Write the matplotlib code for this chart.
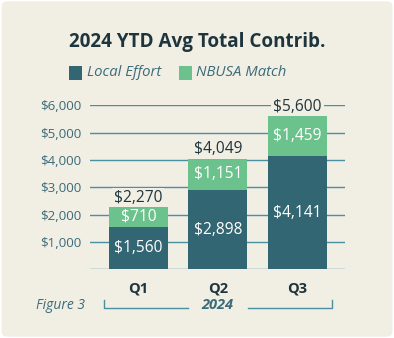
import matplotlib.pyplot as plt
from matplotlib.patches import FancyBboxPatch, Rectangle
from matplotlib.lines import Line2D

quarters = ['Q1', 'Q2', 'Q3']
local_effort = [1560, 2898, 4141]
nbusa_match = [710, 1151, 1459]
totals = [2270, 4049, 5600]
y_ticks = [1000, 2000, 3000, 4000, 5000, 6000]

BG = '#f1eee4'
DARK = '#336673'
GREEN = '#6cc28c'
GRID = '#4b8fa2'
TICK = '#3b6c7a'
INK = '#1f353d'

plt.rcParams['font.family'] = ['Open Sans', 'DejaVu Sans']

W, H = 394, 338
fig = plt.figure(figsize=(W / 100, H / 100), dpi=100)
fig.patch.set_facecolor('white')


def fx(px):
    return px / W


def fy(py):
    return 1 - py / H


# card background
fig.patches.append(FancyBboxPatch((0.004, 0.004), 0.992, 0.992,
                                  boxstyle='round,pad=0,rounding_size=0.015',
                                  transform=fig.transFigure, facecolor=BG,
                                  edgecolor='none', zorder=-5))

ax = fig.add_axes([fx(90), fy(269.3), fx(344.7) - fx(90), fy(105.3) - fy(269.3)])
ax.set_zorder(2)
ax.set_facecolor('none')
for s in ax.spines.values():
    s.set_visible(False)

x = list(range(len(quarters)))
width = 0.74

for v in [0] + y_ticks:
    ax.axhline(v, color=GRID, lw=1.0, zorder=1)

ax.bar(x, local_effort, width, color=DARK, zorder=2)
ax.bar(x, nbusa_match, width, bottom=local_effort, color=GREEN, zorder=2)

for i in x:
    ax.text(i, local_effort[i] / 2, f'${local_effort[i]:,}', ha='center',
            va='center', color='white', fontsize=11.2, zorder=3)
    ax.text(i, local_effort[i] + nbusa_match[i] / 2, f'${nbusa_match[i]:,}',
            ha='center', va='center', color='white', fontsize=11.2, zorder=3)
    ax.annotate(f'${totals[i]:,}', (i, totals[i]), xytext=(0, 7),
                textcoords='offset points', ha='center', va='center',
                color=INK, fontsize=11.2, zorder=3, annotation_clip=False,
                bbox=dict(boxstyle='square,pad=0.12', fc=BG, ec='none'))

ax.set_xlim(-0.607, 2.593)
ax.set_ylim(0, 6000)
ax.set_yticks(y_ticks)
ax.set_yticklabels([f'${v:,}' for v in y_ticks], color=TICK, fontsize=9.6)
ax.set_xticks(x)
ax.set_xticklabels(quarters, color=INK, fontsize=10.5, fontweight='bold')
ax.tick_params(axis='y', length=0, pad=6)
ax.tick_params(axis='x', length=0, pad=9)

# title and legend
fig.text(0.5, fy(42), '2024 YTD Avg Total Contrib.', ha='center', va='center',
         color=INK, fontsize=13.6, fontweight='bold')
fig.patches.append(Rectangle((fx(69), fy(80)), fx(13), fy(66) - fy(80),
                             transform=fig.transFigure, fc=DARK, ec='none'))
fig.text(fx(87), fy(73), 'Local Effort', ha='left', va='center',
         color=TICK, fontsize=10.7, style='italic')
fig.patches.append(Rectangle((fx(179), fy(80)), fx(13), fy(66) - fy(80),
                             transform=fig.transFigure, fc=GREEN, ec='none'))
fig.text(fx(196), fy(73), 'NBUSA Match', ha='left', va='center',
         color=TICK, fontsize=10.7, style='italic')

# footer: figure number and year bracket
fig.text(fx(36), fy(305.5), 'Figure 3', ha='left', va='center',
         color=TICK, fontsize=10, style='italic')
fig.text(fx(217), fy(305), '2024', ha='center', va='center',
         color=TICK, fontsize=10.5, style='italic', fontweight='bold')
fig.lines.append(Line2D([fx(104.3), fx(104.3), fx(187.7)],
                        [fy(300), fy(308.3), fy(308.3)],
                        transform=fig.transFigure, color=GRID, lw=1.0))
fig.lines.append(Line2D([fx(248), fx(331.7), fx(331.7)],
                        [fy(308.3), fy(308.3), fy(300)],
                        transform=fig.transFigure, color=GRID, lw=1.0))

fig.savefig('out.png', dpi=100, facecolor=fig.get_facecolor())
